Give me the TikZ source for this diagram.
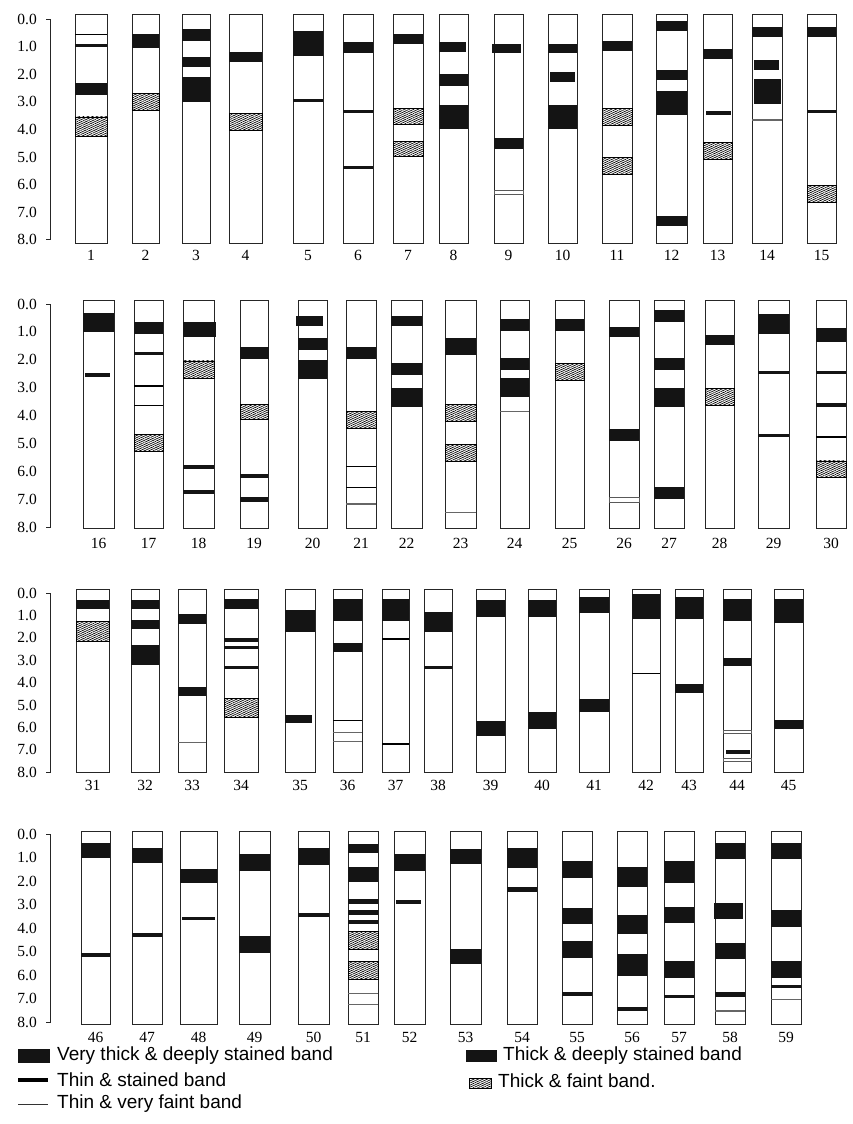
\documentclass[tikz,border=0pt]{standalone}
\usepackage{fontspec}
\setmainfont{Liberation Serif}
\newfontfamily\legendfont{Liberation Sans}
\usetikzlibrary{patterns.meta}
\tikzset{
 lanebox/.style={draw=black!85, line width=0.9pt, fill=white},
 bandblk/.style={fill=black!92},
 bandhatch/.style={draw=black, line width=0.6pt, pattern={Lines[angle=25,distance=1.9pt,line width=0.7pt]}},
 bandfaint/.style={draw=black!65, line width=0.8pt, fill=white},
 bandline/.style={draw=black, line width=1.5pt},
 faintline/.style={draw=black!60, line width=1.1pt},
 lanenum/.style={font=\fontsize{15.5}{15.5}\selectfont, anchor=center, inner sep=0pt},
 axlabel/.style={font=\fontsize{15.5}{15.5}\selectfont, anchor=east, inner sep=0pt},
 axisline/.style={draw=black!85, line width=0.9pt},
 legtext/.style={font=\legendfont\fontsize{19}{19}\selectfont, anchor=west, inner sep=0pt},
}
\newcommand\lane[3]{\gdef\xl{#1}\gdef\xr{#2}\draw[lanebox] (#1,\ltop) rectangle (#2,\lbot); \node[lanenum] (n#3) at ({(#1+#2)/2},\lnum) {#3};}
\newcommand\bandB[2]{\fill[bandblk] (\xl,#1) rectangle (\xr,#2);}
\newcommand\bandBx[4]{\fill[bandblk] (#1,#3) rectangle (#2,#4);}
\newcommand\bandH[2]{\draw[bandhatch] (\xl,#1) rectangle (\xr,#2);}
\newcommand\bandD[2]{\draw[bandfaint] (\xl,#1) rectangle (\xr,#2);}
\newcommand\bandL[1]{\draw[bandline] (\xl,#1) -- (\xr,#1);}
\newcommand\bandF[1]{\draw[faintline] (\xl,#1) -- (\xr,#1);}
\newcommand\yaxis[1]{\draw[axisline] (46,0) -- (50,0) -- (50,8) -- (46,8);
 \foreach \i in {0,...,8} {\node[axlabel] (ax#1-\i) at (37,\i) {\i.0};}}
\begin{document}
\begin{tikzpicture}[x=1pt,y=-1pt]
\useasboundingbox[fill=white] (0,0) rectangle (853,1124);
% ---------------- Row 1
\begin{scope}[yshift=-19pt, y=-27.6pt]
\def\ltop{-0.18}\def\lbot{8.12}\def\lnum{8.57}
\yaxis{a}
\lane{75}{107}{1} \bandL{0.57} \bandB{0.9}{1.03} \bandB{2.31}{2.74} \bandH{3.55}{4.24}
\lane{132}{159}{2} \bandB{0.54}{1.04} \bandH{2.69}{3.32}
\lane{182}{210}{3} \bandB{0.37}{0.79} \bandB{1.37}{1.73} \bandB{2.11}{3.0}
\lane{229}{262}{4} \bandB{1.2}{1.55} \bandH{3.41}{4.05}
\lane{293}{323}{5} \bandB{0.43}{1.34} \bandB{2.9}{3.02}
\lane{343}{373}{6} \bandB{0.83}{1.24} \bandB{3.3}{3.42} \bandB{5.33}{5.45}
\lane{393}{423}{7} \bandB{0.54}{0.89} \bandH{3.24}{3.8} \bandH{4.43}{4.96}
\lane{439}{468}{8} \bandBx{439}{466}{0.83}{1.2} \bandB{1.99}{2.42} \bandB{3.12}{4.0}
\lane{494}{523}{9} \bandBx{492}{521}{0.9}{1.24} \bandB{4.31}{4.72} \bandD{6.22}{6.34}
\lane{548}{577}{10} \bandB{0.9}{1.24} \bandBx{550}{575}{1.92}{2.27} \bandB{3.12}{4.0}
\lane{602}{632}{11} \bandB{0.8}{1.15} \bandH{3.24}{3.85} \bandH{5.01}{5.62}
\lane{656}{687}{12} \bandB{0.07}{0.42} \bandB{1.85}{2.21} \bandB{2.61}{3.48} \bandB{7.14}{7.5}
\lane{703}{732}{13} \bandB{1.1}{1.44} \bandBx{706}{731}{3.33}{3.48} \bandH{4.48}{5.08}
\lane{752}{782}{14} \bandB{0.3}{0.64} \bandBx{754}{779}{1.49}{1.85} \bandBx{754}{781}{2.17}{3.08} \bandF{3.66}
\lane{807}{836}{15} \bandB{0.3}{0.64} \bandB{3.3}{3.42} \bandH{6.04}{6.64}
\end{scope}
% ---------------- Row 2
\begin{scope}[yshift=-304pt, y=-27.9pt]
\def\ltop{-0.11}\def\lbot{8.03}\def\lnum{8.57}
\yaxis{b}
\lane{83}{114}{16} \bandB{0.33}{0.99} \bandBx{85}{110}{2.48}{2.6}
\lane{134}{163}{17} \bandB{0.66}{1.06} \bandB{1.72}{1.84} \bandL{2.93} \bandL{3.64} \bandH{4.67}{5.27}
\lane{183}{214}{18} \bandBx{183}{216}{0.66}{1.17} \bandH{2.04}{2.66} \bandB{5.77}{5.91} \bandB{6.67}{6.81}
\lane{240}{268}{19} \bandBx{240}{269}{1.55}{1.96} \bandH{3.6}{4.13} \bandB{6.09}{6.22} \bandB{6.93}{7.09}
\lane{298}{327}{20} \bandBx{296}{323}{0.43}{0.79} \bandB{1.22}{1.65} \bandB{2.01}{2.69}
\lane{346}{376}{21} \bandB{1.55}{1.97} \bandH{3.84}{4.44} \bandL{5.83} \bandL{6.58} \bandF{7.17}
\lane{391}{422}{22} \bandB{0.43}{0.79} \bandB{2.1}{2.55} \bandB{3.02}{3.68}
\lane{445}{476}{23} \bandB{1.23}{1.83} \bandH{3.6}{4.19} \bandH{5.02}{5.65} \bandF{7.46}
\lane{500}{529}{24} \bandB{0.54}{0.96} \bandB{1.95}{2.37} \bandB{2.66}{3.32} \bandF{3.86}
\lane{555}{584}{25} \bandB{0.54}{0.96} \bandH{2.13}{2.75}
\lane{609}{639}{26} \bandB{0.84}{1.17} \bandB{4.49}{4.9} \bandD{6.93}{7.11}
\lane{654}{684}{27} \bandB{0.22}{0.63} \bandB{1.94}{2.37} \bandB{3.02}{3.68} \bandB{6.57}{6.99}
\lane{705}{734}{28} \bandB{1.12}{1.46} \bandH{3.02}{3.62}
\lane{758}{789}{29} \bandB{0.36}{1.06} \bandB{2.4}{2.52} \bandB{4.66}{4.78}
\lane{816}{846}{30} \bandB{0.87}{1.35} \bandB{2.4}{2.52} \bandB{3.56}{3.68} \bandL{4.76} \bandH{5.62}{6.21}
\end{scope}
% ---------------- Row 3
\begin{scope}[yshift=-593pt, y=-22.4pt]
\def\ltop{-0.18}\def\lbot{8.0}\def\lnum{8.57}
\yaxis{c}
\lane{76}{109}{31} \bandB{0.31}{0.71} \bandH{1.28}{2.17}
\lane{131}{159}{32} \bandB{0.31}{0.71} \bandB{1.2}{1.61} \bandB{2.32}{3.21}
\lane{178}{206}{33} \bandB{0.94}{1.38} \bandB{4.18}{4.58} \bandF{6.67}
\lane{224}{258}{34} \bandB{0.27}{0.71} \bandB{2.02}{2.17} \bandB{2.37}{2.51} \bandB{3.26}{3.41} \bandH{4.7}{5.55}
\lane{285}{315}{35} \bandB{0.76}{1.73} \bandBx{285}{312}{5.45}{5.82}
\lane{333}{362}{36} \bandB{0.27}{1.24} \bandB{2.22}{2.62} \bandL{5.7} \bandF{6.23} \bandF{6.61}
\lane{382}{409}{37} \bandB{0.27}{1.24} \bandL{2.05} \bandL{6.73}
\lane{424}{452}{38} \bandB{0.86}{1.73} \bandB{3.26}{3.41}
\lane{476}{505}{39} \bandB{0.31}{1.06} \bandB{5.71}{6.37}
\lane{528}{556}{40} \bandB{0.31}{1.06} \bandB{5.31}{6.06}
\lane{579}{609}{41} \bandB{0.19}{0.91} \bandB{4.73}{5.33}
\lane{632}{660}{42} \bandB{0.04}{1.15} \bandL{3.6}
\lane{675}{703}{43} \bandB{0.19}{1.17} \bandB{4.08}{4.45}
\lane{723}{751}{44} \bandB{0.27}{1.24} \bandB{2.92}{3.26} \bandD{6.14}{6.26} \bandBx{726}{750}{7.01}{7.19} \bandD{7.4}{7.53}
\lane{774}{803}{45} \bandB{0.27}{1.35} \bandB{5.67}{6.07}
\end{scope}
% ---------------- Row 4
\begin{scope}[yshift=-834pt, y=-23.5pt]
\def\ltop{-0.13}\def\lbot{8.09}\def\lnum{8.64}
\yaxis{d}
\lane{81}{110}{46} \bandB{0.4}{1.01} \bandB{5.08}{5.22}
\lane{132}{162}{47} \bandB{0.61}{1.22} \bandB{4.23}{4.4}
\lane{180}{217}{48} \bandB{1.5}{2.07} \bandBx{182}{215}{3.52}{3.66}
\lane{239}{270}{49} \bandB{0.85}{1.56} \bandB{4.34}{5.05}
\lane{298}{329}{50} \bandB{0.61}{1.31} \bandB{3.36}{3.53}
\lane{348}{378}{51} \bandB{0.43}{0.8} \bandB{1.42}{2.03} \bandB{2.78}{2.97} \bandB{3.23}{3.43} \bandB{3.66}{3.84} \bandH{4.16}{4.91} \bandH{5.43}{6.18} \bandF{6.78} \bandF{7.25}
\lane{394}{425}{52} \bandB{0.85}{1.56} \bandBx{396}{421}{2.81}{2.99}
\lane{450}{481}{53} \bandB{0.65}{1.26} \bandB{4.91}{5.53}
\lane{507}{537}{54} \bandB{0.6}{1.43} \bandB{2.27}{2.45}
\lane{562}{592}{55} \bandB{1.15}{1.86} \bandB{3.16}{3.84} \bandB{4.55}{5.26} \bandB{6.71}{6.88}
\lane{617}{647}{56} \bandB{1.42}{2.24} \bandB{3.45}{4.27} \bandB{5.11}{6.03} \bandB{7.35}{7.52}
\lane{664}{694}{57} \bandB{1.15}{2.07} \bandB{3.12}{3.8} \bandB{5.4}{6.11} \bandB{6.85}{6.99}
\lane{715}{745}{58} \bandB{0.37}{1.08} \bandBx{714}{743}{2.95}{3.63} \bandB{4.65}{5.33} \bandB{6.74}{6.92} \bandF{7.53}
\lane{771}{801}{59} \bandB{0.37}{1.08} \bandB{3.23}{3.94} \bandB{5.4}{6.11} \bandB{6.43}{6.57} \bandF{7.03}
\end{scope}
% ---------------- Legend
\fill[bandblk] (18,1049) rectangle (50,1063);
\node[legtext] (l1) at (57,1056) {Very thick \& deeply stained band};
\draw[black, line width=4pt] (18,1080) -- (48,1080);
\node[legtext] (l2) at (57,1080) {Thin \& stained band};
\draw[black!80, line width=0.7pt] (18,1104) -- (48,1104);
\node[legtext] (l3) at (57,1104) {Thin \& very faint band};
\fill[bandblk] (466,1050) rectangle (497,1062);
\node[legtext] (l4) at (503,1056) {Thick \& deeply stained band};
\draw[bandhatch] (469,1078) rectangle (491,1088);
\node[legtext] (l5) at (498,1081) {Thick \& faint band.};
\end{tikzpicture}
\end{document}
